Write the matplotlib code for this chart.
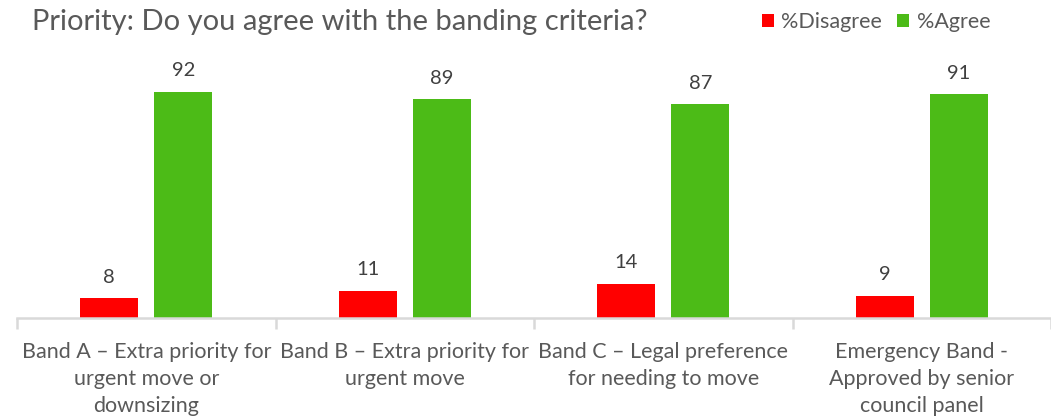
import matplotlib.pyplot as plt
import numpy as np

plt.rcParams['font.family'] = ['Lato', 'DejaVu Sans']

categories = ['Band A \u2013 Extra priority for\nurgent move or\ndownsizing',
              'Band B \u2013 Extra priority for\nurgent move',
              'Band C \u2013 Legal preference\nfor needing to move',
              'Emergency Band -\nApproved by senior\ncouncil panel']
disagree = [8, 11, 14, 9]
agree = [92, 89, 87, 91]

red = '#ff0000'
green = '#4cbb17'
grey = '#595959'

fig = plt.figure(figsize=(10.51, 4.19), dpi=100)
ax = fig.add_axes([17 / 1051, 0.241, 1 - 17 / 1051, 0.587])

x = np.arange(len(categories))
w = 0.224
off = 0.143
b1 = ax.bar(x - off, disagree, w, color=red, label='%Disagree')
b2 = ax.bar(x + off, agree, w, color=green, label='%Agree')

for bars in (b1, b2):
    for r in bars:
        ax.annotate(f'{r.get_height():.0f}', (r.get_x() + r.get_width() / 2, r.get_height()),
                    xytext=(0, 9), textcoords='offset points', ha='center', va='bottom',
                    fontsize=14.5, color='#404040')

ax.set_xlim(-0.5, len(categories) - 0.5)
ax.set_ylim(0, 100)
ax.set_yticks([])
for s in ['top', 'right', 'left']:
    ax.spines[s].set_visible(False)
ax.spines['bottom'].set_color('#d9d9d9')
ax.spines['bottom'].set_linewidth(1.8)

ax.set_xticks(x)
ax.set_xticklabels(categories, fontsize=15.5, color=grey, linespacing=1.45)
ax.tick_params(axis='x', which='major', length=0, pad=17)
ax.set_xticks(np.arange(len(categories) + 1) - 0.5, minor=True)
ax.tick_params(axis='x', which='minor', length=8, width=1.8, color='#d9d9d9')

fig.text(32 / 1051, 1 - 22 / 419, 'Priority: Do you agree with the banding criteria?',
         fontsize=21, color=grey, va='center', ha='left')

fig.legend(handles=[b1, b2], loc='center', bbox_to_anchor=(876 / 1051, 1 - 22 / 419),
           ncol=2, frameon=False, fontsize=15.5, labelcolor=grey, handlelength=0.55,
           handleheight=0.55, handletextpad=0.35, columnspacing=0.7)

fig.savefig('out.png', dpi=100)
